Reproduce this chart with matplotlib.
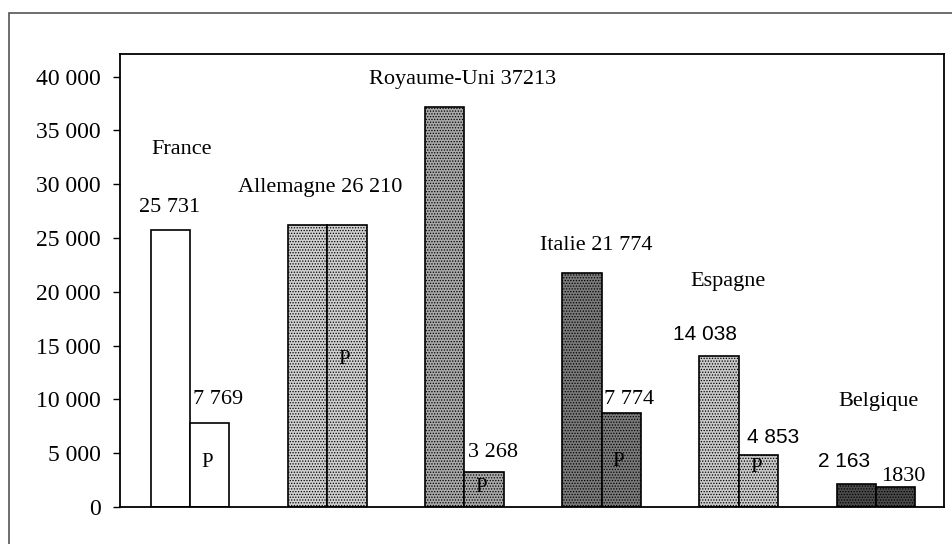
import matplotlib
matplotlib.use("Agg")
import matplotlib.pyplot as plt
from matplotlib.patches import Rectangle
import numpy as np

countries = ["France", "Allemagne", "Royaume-Uni", "Italie", "Espagne", "Belgique"]
total_values = [25731, 26210, 37213, 21774, 14038, 2163]
p_values = [7769, 26210, 3268, 8700, 4853, 1830]   # Italy's P bar is drawn taller than its label
total_labels = ["25 731", "Allemagne 26 210", "Royaume-Uni 37213", "Italie 21 774", "14 038", "2 163"]
p_labels = ["7 769", "", "3 268", "7 774", "4 853", "1830"]
yticks = [0, 5000, 10000, 15000, 20000, 25000, 30000, 35000, 40000]
ytick_labels = ["0", "5 000", "10 000", "15 000", "20 000", "25 000", "30 000", "35 000", "40 000"]

face = ["#ffffff", "#d0d0d0", "#a8a8a8", "#7a7a7a", "#cacaca", "#4a4a4a"]
hatch = [None, "......", "......", "......", "......", "......"]

plt.rcParams["hatch.linewidth"] = 0.6
serif = ["Liberation Serif", "DejaVu Serif"]
sans = ["Liberation Sans", "DejaVu Sans"]

fig = plt.figure(figsize=(9.53, 5.44), dpi=100)
ax = fig.add_axes([120/953, 37/544, 824/953, 453/544])

x = np.arange(len(countries))
w = 0.287
for i in range(len(countries)):
    ax.bar(x[i] - w/2, total_values[i], width=w, color=face[i], edgecolor="black",
           linewidth=1.2, hatch=hatch[i])
    ax.bar(x[i] + w/2, p_values[i], width=w, color=face[i], edgecolor="black",
           linewidth=1.2, hatch=hatch[i])

ax.set_xlim(-0.51, 5.496)
ax.set_ylim(0, 42100)
ax.set_xticks([])
ax.set_yticks(yticks)
ax.set_yticklabels(ytick_labels, fontfamily=serif, fontsize=17)
ax.tick_params(axis="y", direction="out", length=5, width=1, pad=9)
for s in ax.spines.values():
    s.set_linewidth(1.3)

fs = 16
def t(xx, yy, s, fam=serif, ha="center", size=fs):
    ax.text(xx, yy, s, ha=ha, va="center", fontfamily=fam, fontsize=size)

t(-0.06, 33200, countries[0])
t(-0.146, 27810, total_labels[0])
t(0.02, 9950, p_labels[0], ha="left")
t(0.948, 29670, total_labels[1])
t(1.99, 39720, total_labels[2])
t(2.025, 5100, p_labels[2], ha="left")
t(2.96, 24280, total_labels[3])
t(3.02, 9950, p_labels[3], ha="left")
t(3.92, 20960, countries[4])
t(3.754, 16000, total_labels[4], fam=sans, size=15)
t(4.25, 6420, p_labels[4], fam=sans, size=15)
t(5.015, 9800, countries[5])
t(4.77, 4210, total_labels[5], fam=sans, size=15)
t(5.197, 2880, p_labels[5])

p_pos = [(0, 4090), (1, 13670), (2, 1770), (3, 4190), (4, 3630)]
for i, yy in p_pos:
    t(x[i] + w/2 - 0.02, yy, "P", size=15)

fig.patches.append(Rectangle((9/953, -0.2), 2.0, 1 - 13/544 + 0.2, transform=fig.transFigure,
                             fill=False, edgecolor="#555555", linewidth=1.2))

fig.savefig("out.png", dpi=100)
